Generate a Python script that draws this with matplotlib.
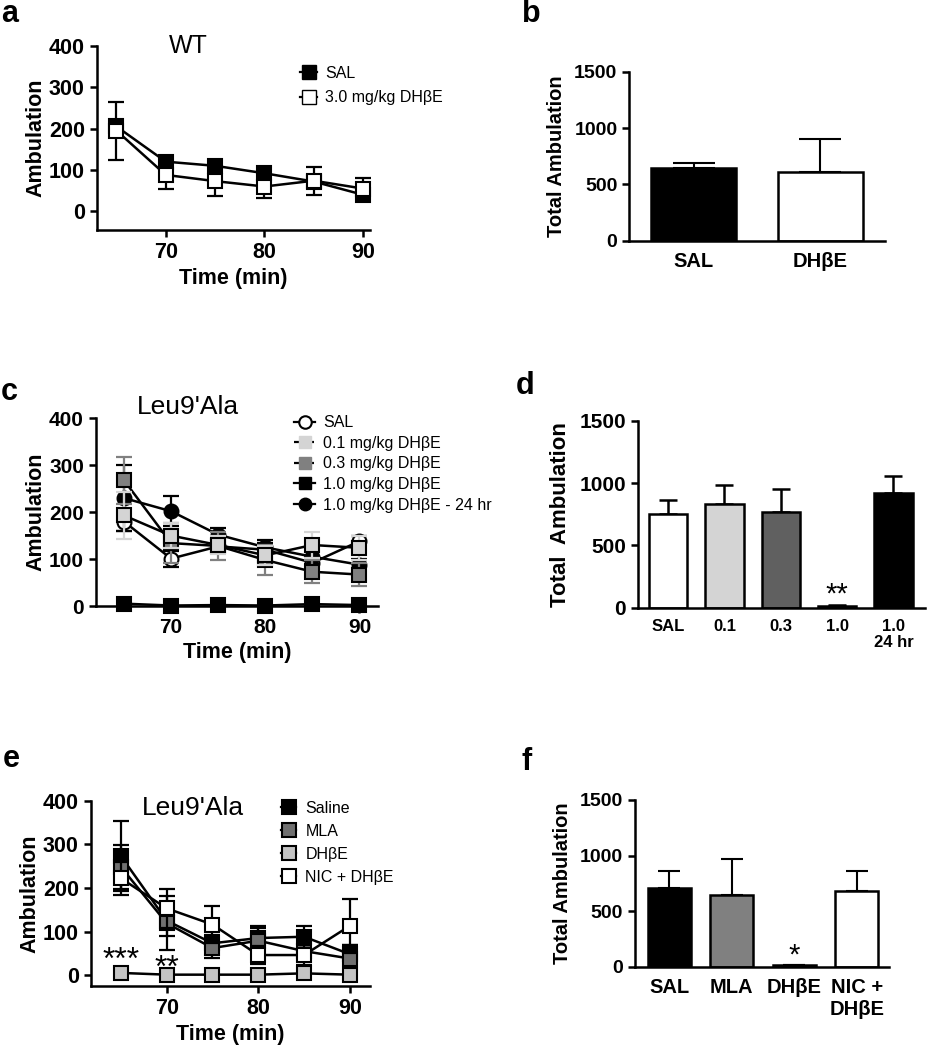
import matplotlib
matplotlib.use("Agg")
import matplotlib.pyplot as plt
from matplotlib.lines import Line2D
import numpy as np

plt.rcParams['font.family'] = ['Liberation Sans', 'DejaVu Sans']

time = [65, 70, 75, 80, 85, 90]

# Panel a (WT)
a_sal = [205, 120, 110, 92, 72, 40]
a_sal_err = [15, 10, 10, 8, 10, 8]
a_dhbe = [195, 88, 73, 60, 74, 55]
a_dhbe_err = [70, 34, 36, 27, 34, 25]

# Panel b
b_labels = ['SAL', 'DHβE']
b_vals = [644, 614]
b_err = [44, 288]

# Panel c (Leu9'Ala)
c_sal = [180, 101, 127, 120, 92, 138]
c_sal_err = [20, 17, 15, 15, 15, 12]
c_01 = [193, 150, 130, 108, 130, 124]
c_01_err = [50, 27, 20, 20, 27, 25]
c_03 = [268, 134, 128, 98, 73, 67]
c_03_err = [50, 42, 30, 32, 25, 25]
c_10 = [5, 1, 2, 1, 4, 2]
c_10_err = [3, 1, 1, 1, 2, 1]
c_24 = [230, 202, 152, 125, 105, 88]
c_24_err = [70, 32, 15, 15, 15, 12]

# Panel d
d_labels = ['SAL', '0.1', '0.3', '1.0', '1.0\n24 hr']
d_vals = [749, 832, 770, 16, 917]
d_err = [115, 152, 179, 5, 139]

# Panel e (Leu9'Ala)
e_sal = [273, 125, 73, 85, 88, 48]
e_sal_err = [80, 35, 20, 28, 25, 22]
e_mla = [248, 119, 62, 79, 55, 38]
e_mla_err = [50, 62, 22, 28, 20, 30]
e_dhbe = [5, 1, 1, 1, 4, 1]
e_dhbe_err = [3, 1, 1, 1, 2, 1]
e_nic = [222, 153, 116, 46, 46, 113]
e_nic_err = [38, 44, 42, 20, 22, 62]

# Panel f
f_labels = ['SAL', 'MLA', 'DHβE', 'NIC +\nDHβE']
f_vals = [705, 645, 12, 681]
f_err = [159, 321, 3, 180]

W, H = 927, 1050
fig = plt.figure(figsize=(W / 100, H / 100), dpi=100)


def ax_at(l, r, t, b):
    return fig.add_axes([l / W, 1 - b / H, (r - l) / W, (b - t) / H])


def style(ax, tick_fs):
    for s in ['top', 'right']:
        ax.spines[s].set_visible(False)
    for s in ['left', 'bottom']:
        ax.spines[s].set_linewidth(1.8)
    ax.tick_params(width=1.8, length=5, labelsize=tick_fs, direction='out')
    for lab in ax.get_xticklabels() + ax.get_yticklabels():
        lab.set_fontweight('bold')


def series(ax, y, err, marker, fc, ecol='black', ms=10.5, z=3):
    ax.errorbar(time, y, yerr=err, fmt='none', ecolor=ecol, elinewidth=1.6,
                capsize=6, capthick=1.6, zorder=z, clip_on=False)
    ax.plot(time, y, '-', color='black', lw=1.8, zorder=z)
    ax.plot(time, y, linestyle='none', marker=marker, ms=ms, mfc=fc, mec='black',
            mew=1.5, zorder=z + 0.5, clip_on=False)


def letter(x, y, s):
    fig.text(x / W, 1 - y / H, s, fontsize=22, fontweight='bold', va='top', ha='left')


# ---------- Panel a ----------
ax = ax_at(96.7, 370, 45.7, 230)
series(ax, a_sal, a_sal_err, 's', 'black', z=3)
series(ax, a_dhbe, a_dhbe_err, 's', 'white', z=4)
ax.set_xlim(63, 90.7)
ax.set_ylim(-45, 400)
ax.set_xticks([70, 80, 90])
ax.set_yticks([0, 100, 200, 300, 400])
ax.set_xlabel('Time (min)', fontsize=15.5, fontweight='bold', labelpad=4)
ax.set_ylabel('Ambulation', fontsize=15.5, fontweight='bold', labelpad=2)
style(ax, 15.5)
ax.text(0.334, 1.0, 'WT', transform=ax.transAxes, fontsize=18, ha='center', va='center')
hs = [Line2D([], [], color='black', lw=1.6, marker='s', ms=10.5, mfc='black', mec='black'),
      Line2D([], [], color='black', lw=1.6, marker='s', ms=10.5, mfc='white', mec='black')]
ax.legend(hs, ['SAL', '3.0 mg/kg DHβE'], loc='upper left', bbox_to_anchor=(0.72, 0.925),
          frameon=False, fontsize=11.5, handlelength=1.1, handletextpad=0.5,
          labelspacing=0.6, borderaxespad=0)
letter(1, -1, 'a')

# ---------- Panel b ----------
ax = ax_at(629.3, 885, 72, 240.7)
xb = np.arange(len(b_vals))
ax.bar(xb, b_vals, width=0.67, color=['black', 'white'], edgecolor='black', linewidth=1.8, zorder=2)
ax.errorbar(xb, b_vals, yerr=[np.zeros(len(b_vals)), b_err], fmt='none', ecolor='black',
            elinewidth=1.5, capsize=15, capthick=1.5, zorder=1)
ax.set_xlim(-0.51, 1.51)
ax.set_ylim(0, 1500)
ax.set_yticks([0, 500, 1000, 1500])
ax.set_xticks(xb)
ax.set_xticklabels(b_labels)
ax.set_ylabel('Total Ambulation', fontsize=14.5, fontweight='bold', labelpad=6)
style(ax, 14)
ax.tick_params(axis='x', length=0, labelsize=14.5, pad=8)
letter(522, -1, 'b')

# ---------- Panel c ----------
ax = ax_at(95.7, 378.3, 418.3, 606)
series(ax, c_10, c_10_err, 's', 'black', z=2)
series(ax, c_sal, c_sal_err, 'o', 'white', ms=10, z=3)
series(ax, c_24, c_24_err, 'o', 'black', ms=10, z=4)
series(ax, c_03, c_03_err, 's', '#808080', ecol='#808080', z=5)
series(ax, c_01, c_01_err, 's', '#d4d4d4', ecol='#d4d4d4', z=6)
ax.set_xlim(62, 92)
ax.set_ylim(0, 400)
ax.set_xticks([70, 80, 90])
ax.set_yticks([0, 100, 200, 300, 400])
ax.set_xlabel('Time (min)', fontsize=15.5, fontweight='bold', labelpad=4)
ax.set_ylabel('Ambulation', fontsize=15.5, fontweight='bold', labelpad=2)
style(ax, 15)
ax.text(0.326, 1.06, "Leu9'Ala", transform=ax.transAxes, fontsize=19, ha='center', va='center')
hs = [Line2D([], [], color='black', lw=1.6, marker='o', ms=9, mfc='white', mec='black', mew=1.5),
      Line2D([], [], color='black', lw=1.6, ls='--', marker='s', ms=9, mfc='#d4d4d4', mec='#d4d4d4'),
      Line2D([], [], color='black', lw=1.6, ls='--', marker='s', ms=9, mfc='#808080', mec='#808080'),
      Line2D([], [], color='black', lw=1.6, marker='s', ms=9, mfc='black', mec='black'),
      Line2D([], [], color='black', lw=1.6, marker='o', ms=9, mfc='black', mec='black')]
ax.legend(hs, ['SAL', '0.1 mg/kg DHβE', '0.3 mg/kg DHβE', '1.0 mg/kg DHβE',
               '1.0 mg/kg DHβE - 24 hr'], loc='upper left', bbox_to_anchor=(0.68, 1.05),
          frameon=False, fontsize=11.5, handlelength=1.3, handletextpad=0.5,
          labelspacing=0.35, borderaxespad=0)
letter(1, 377, 'c')

# ---------- Panel d ----------
ax = ax_at(637.7, 925, 420.7, 607.7)
xd = np.arange(len(d_vals))
ax.bar(xd, d_vals, width=0.68, color=['white', '#d4d4d4', '#606060', 'black', 'black'],
       edgecolor='black', linewidth=1.8, zorder=2)
ax.errorbar(xd, d_vals, yerr=[np.zeros(len(d_vals)), d_err], fmt='none', ecolor='black',
            elinewidth=1.8, capsize=6.5, capthick=1.8, zorder=1)
ax.text(xd[3], 45, '**', ha='center', va='baseline', fontsize=21)
ax.set_xlim(-0.54, 4.56)
ax.set_ylim(0, 1500)
ax.set_yticks([0, 500, 1000, 1500])
ax.set_xticks(xd)
ax.set_xticklabels(d_labels)
ax.set_ylabel('Total  Ambulation', fontsize=16, fontweight='bold', labelpad=6)
style(ax, 15)
ax.tick_params(axis='x', length=0, labelsize=12, pad=8)
for lab in ax.get_xticklabels():
    lab.set_linespacing(1.1)
letter(516, 371, 'd')

# ---------- Panel e ----------
ax = ax_at(90.7, 370, 800.7, 986)
series(ax, e_sal, e_sal_err, 's', 'black', z=3)
series(ax, e_mla, e_mla_err, 's', '#707070', z=4)
series(ax, e_nic, e_nic_err, 's', 'white', z=5)
series(ax, e_dhbe, e_dhbe_err, 's', '#c4c4c4', z=6)
ax.text(65, 14, '***', ha='center', va='baseline', fontsize=23)
ax.text(70, -3, '**', ha='center', va='baseline', fontsize=23)
ax.set_xlim(61.7, 92.2)
ax.set_ylim(-25, 400)
ax.set_xticks([70, 80, 90])
ax.set_yticks([0, 100, 200, 300, 400])
ax.set_xlabel('Time (min)', fontsize=15.5, fontweight='bold', labelpad=4)
ax.set_ylabel('Ambulation', fontsize=15.5, fontweight='bold', labelpad=2)
style(ax, 15.5)
ax.text(0.365, 0.96, "Leu9'Ala", transform=ax.transAxes, fontsize=19, ha='center', va='center')
hs = [Line2D([], [], color='black', lw=1.6, marker='s', ms=10.5, mfc=c, mec='black', mew=1.5)
      for c in ['black', '#707070', '#c4c4c4', 'white']]
ax.legend(hs, ['Saline', 'MLA', 'DHβE', 'NIC + DHβE'], loc='upper left',
          bbox_to_anchor=(0.66, 1.035), frameon=False, fontsize=11.5, handlelength=0.9,
          handletextpad=0.6, labelspacing=0.5, borderaxespad=0)
letter(3, 744, 'e')

# ---------- Panel f ----------
ax = ax_at(635, 889.3, 800, 966.7)
xf = np.arange(len(f_vals))
ax.bar(xf, f_vals, width=0.69, color=['black', '#808080', '#c4c4c4', 'white'],
       edgecolor='black', linewidth=1.8, zorder=2)
ax.errorbar(xf, f_vals, yerr=[np.zeros(len(f_vals)), f_err], fmt='none', ecolor='black',
            elinewidth=1.5, capsize=8, capthick=1.5, zorder=1)
ax.text(xf[2], 25, '*', ha='center', va='baseline', fontsize=21)
ax.set_xlim(-0.55, 3.52)
ax.set_ylim(0, 1500)
ax.set_yticks([0, 500, 1000, 1500])
ax.set_xticks(xf)
ax.set_xticklabels(f_labels)
ax.set_ylabel('Total Ambulation', fontsize=14.5, fontweight='bold', labelpad=6)
style(ax, 14)
ax.tick_params(axis='x', length=0, labelsize=14.5, pad=8)
letter(522, 747, 'f')

fig.savefig('out.png', dpi=100)
